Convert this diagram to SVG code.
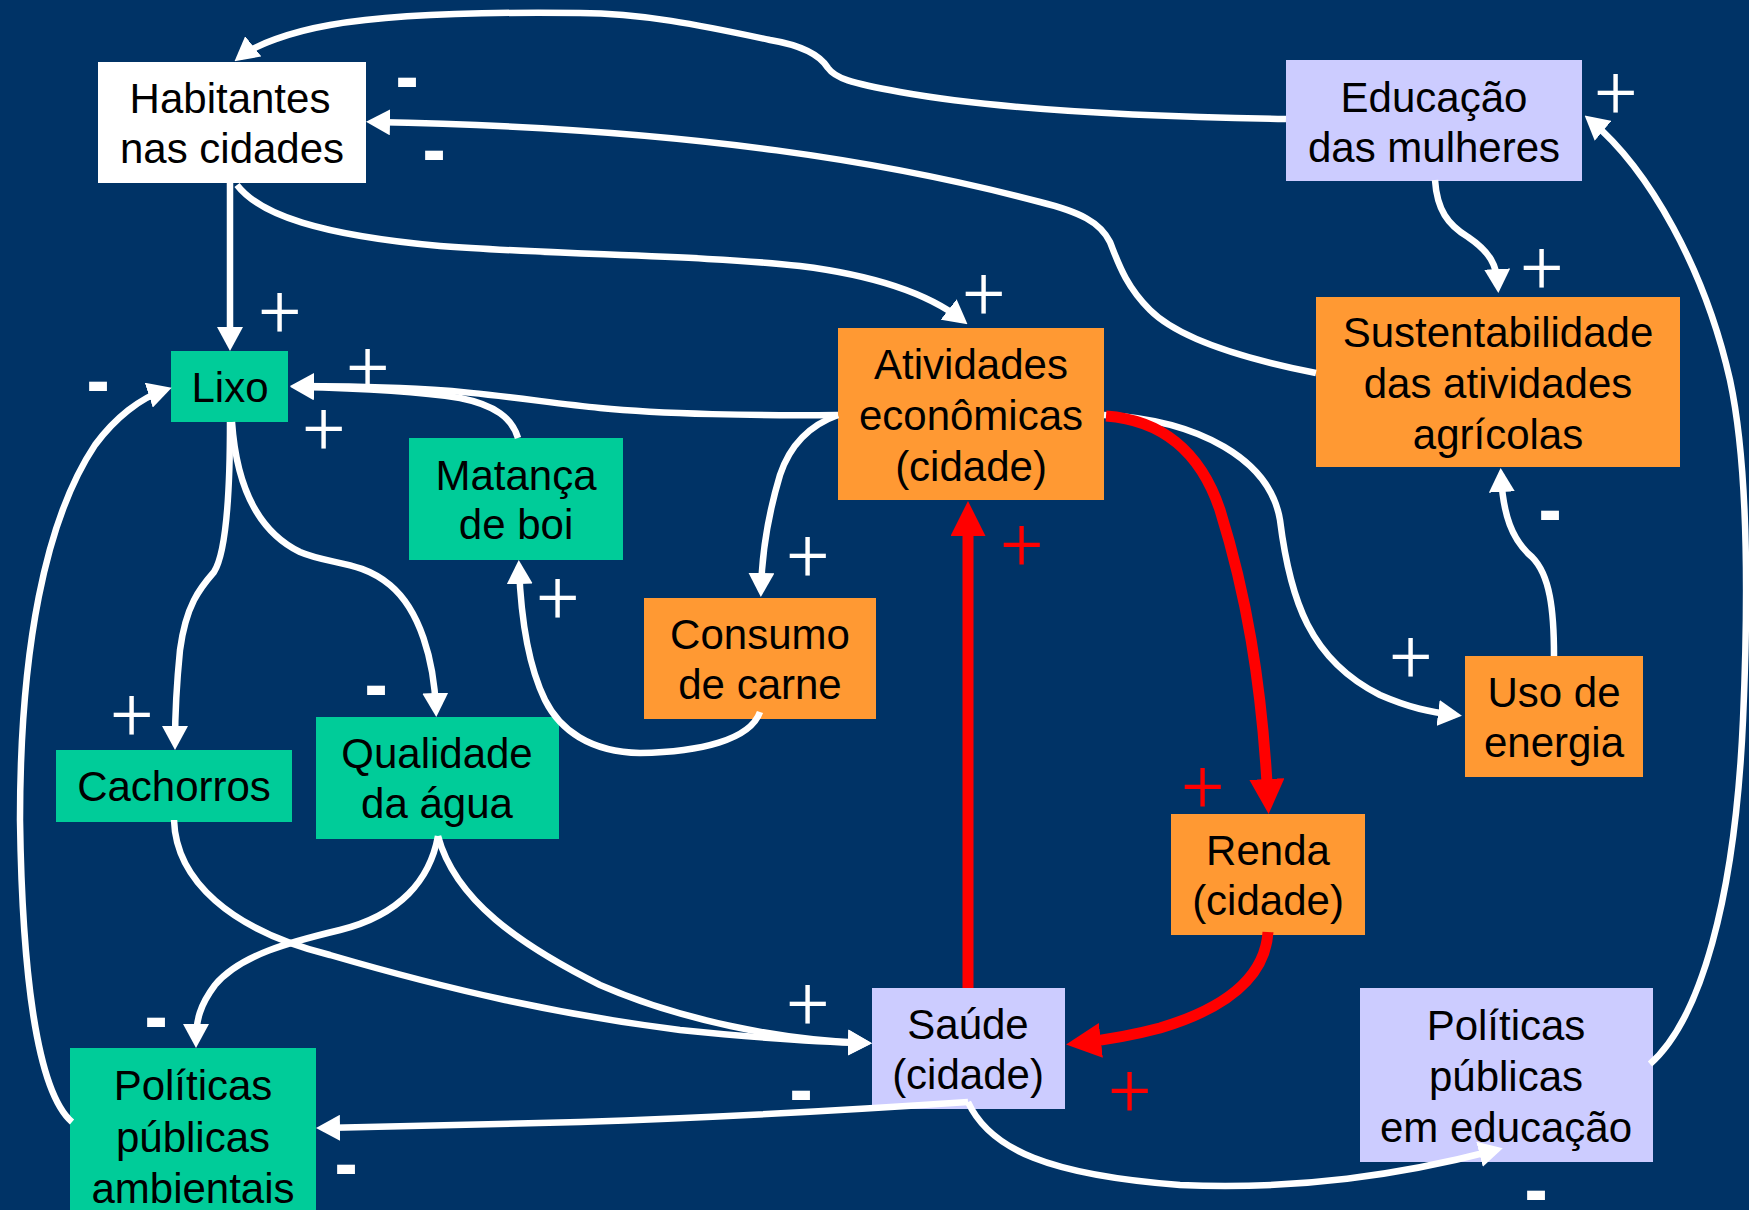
<svg xmlns="http://www.w3.org/2000/svg" width="1749" height="1210" viewBox="0 0 1749 1210">
<style>
.lbl{font-family:"Liberation Sans",Arial,sans-serif;font-size:42px;fill:#000;text-anchor:middle}
.w{fill:none;stroke:#fff;stroke-width:6.5;marker-end:url(#aw)}
.r{fill:none;stroke:#f00;stroke-width:11;marker-end:url(#ar)}
.plus{font-family:Roboto,"Liberation Sans",Arial,sans-serif;font-weight:300;font-size:74px;fill:#fff;text-anchor:middle}
.minus{font-family:"Liberation Sans",Arial,sans-serif;font-size:62px;font-weight:bold;fill:#fff;stroke:#fff;stroke-width:2;text-anchor:middle}
.rplus{font-family:Roboto,"Liberation Sans",Arial,sans-serif;font-weight:300;font-size:74px;fill:#f00;text-anchor:middle}
.teal{fill:#00CC99}.orange{fill:#FF9933}.lav{fill:#CCCCFF}.white{fill:#fff}
</style>
<defs>
<marker id="aw" markerUnits="userSpaceOnUse" markerWidth="24" markerHeight="26" refX="17" refY="13" orient="auto"><path d="M0,0 L24,13 L0,26 z" fill="#fff"/></marker>
<marker id="ar" markerUnits="userSpaceOnUse" markerWidth="35" markerHeight="35" refX="22" refY="17.5" orient="auto"><path d="M0,0 L35,17.5 L0,35 z" fill="#f00"/></marker>
</defs>
<rect width="1749" height="1210" fill="#003366"/>
<g id="nodes">
<g id="n-habitantes"><rect class="white" x="98" y="62" width="268" height="121"/><text class="lbl" x="230" y="113">Habitantes</text><text class="lbl" x="232" y="163">nas cidades</text></g>
<g id="n-educacao"><rect class="lav" x="1286" y="60" width="296" height="121"/><text class="lbl" x="1434" y="112">Educação</text><text class="lbl" x="1434" y="162">das mulheres</text></g>
<g id="n-lixo"><rect class="teal" x="171" y="351" width="117" height="71"/><text class="lbl" x="230" y="402">Lixo</text></g>
<g id="n-matanca"><rect class="teal" x="409" y="438" width="214" height="122"/><text class="lbl" x="516" y="490">Matança</text><text class="lbl" x="516" y="539">de boi</text></g>
<g id="n-atividades"><rect class="orange" x="838" y="328" width="266" height="172"/><text class="lbl" x="971" y="379">Atividades</text><text class="lbl" x="971" y="430">econômicas</text><text class="lbl" x="971" y="481">(cidade)</text></g>
<g id="n-sustentabilidade"><rect class="orange" x="1316" y="297" width="364" height="170"/><text class="lbl" x="1498" y="347">Sustentabilidade</text><text class="lbl" x="1498" y="398">das atividades</text><text class="lbl" x="1498" y="449">agrícolas</text></g>
<g id="n-consumo"><rect class="orange" x="644" y="598" width="232" height="121"/><text class="lbl" x="760" y="649">Consumo</text><text class="lbl" x="760" y="699">de carne</text></g>
<g id="n-uso"><rect class="orange" x="1465" y="656" width="178" height="121"/><text class="lbl" x="1554" y="707">Uso de</text><text class="lbl" x="1554" y="757">energia</text></g>
<g id="n-cachorros"><rect class="teal" x="56" y="750" width="236" height="72"/><text class="lbl" x="174" y="801">Cachorros</text></g>
<g id="n-qualidade"><rect class="teal" x="316" y="717" width="243" height="122"/><text class="lbl" x="437" y="768">Qualidade</text><text class="lbl" x="437" y="818">da água</text></g>
<g id="n-renda"><rect class="orange" x="1171" y="814" width="194" height="121"/><text class="lbl" x="1268" y="865">Renda</text><text class="lbl" x="1268" y="915">(cidade)</text></g>
<g id="n-saude"><rect class="lav" x="872" y="988" width="193" height="121"/><text class="lbl" x="968" y="1039">Saúde</text><text class="lbl" x="968" y="1089">(cidade)</text></g>
<g id="n-pol-amb"><rect class="teal" x="70" y="1048" width="246" height="170"/><text class="lbl" x="193" y="1100">Políticas</text><text class="lbl" x="193" y="1152">públicas</text><text class="lbl" x="193" y="1203">ambientais</text></g>
<g id="n-pol-edu"><rect class="lav" x="1360" y="988" width="293" height="174"/><text class="lbl" x="1506" y="1040">Políticas</text><text class="lbl" x="1506" y="1091">públicas</text><text class="lbl" x="1506" y="1142">em educação</text></g>
</g>
<g id="connectors">
<path class="w" d="M1286,119 C1150,117 1000,110 900,92 C850,83 835,78 828,68 C820,55 800,45 770,40 C700,25 640,13 580,13 C500,12 400,13 330,25 C290,32 255,45 240,57"/>
<path class="w" d="M1316,373 C1250,360 1180,340 1150,310 C1125,285 1118,262 1110,242 C1100,222 1080,212 1040,202 C900,165 700,128 373,122"/>
<path class="w" d="M230,183 L230,344"/>
<path class="w" d="M237,185 C260,215 320,235 440,246 C560,255 700,255 800,266 C880,276 930,295 962,320"/>
<path class="w" d="M838,415 C760,416 660,414 600,408 C540,402 470,390 400,388 C350,386 320,386 297,386"/>
<path class="w" d="M518,438 C512,418 495,405 460,398 C410,390 350,388 297,387"/>
<path class="w" d="M838,415 C810,425 790,445 780,475 C768,515 762,550 761,590"/>
<path class="w" d="M760,712 C750,740 700,752 640,753 C590,752 560,730 545,700 C528,665 521,620 519,567"/>
<path class="w" d="M230,422 C230,480 228,550 214,572 C200,588 186,605 180,650 C176,690 175,720 175,743"/>
<path class="w" d="M232,422 C236,480 255,530 300,552 C330,565 360,560 390,585 C420,610 434,660 436,710"/>
<path class="w" d="M72,1122 C35,1090 22,960 20,820 C20,650 45,520 95,445 C115,418 140,398 165,390"/>
<path class="w" d="M438,836 C430,880 400,915 340,930 C290,942 240,955 215,985 C200,1005 196,1020 196,1041"/>
<path class="w" d="M438,836 C455,900 520,945 600,985 C680,1020 780,1040 865,1043"/>
<path class="w" d="M174,820 C176,880 230,930 330,955 C450,990 560,1015 680,1030 C760,1038 820,1042 865,1043"/>
<path class="w" d="M968,1102 C850,1110 700,1118 580,1122 C480,1125 400,1127 323,1128"/>
<path class="w" d="M968,1102 C990,1150 1050,1175 1180,1185 C1300,1190 1400,1175 1496,1150"/>
<path class="w" d="M1650,1064 C1700,1020 1735,900 1743,720 C1750,560 1745,450 1730,380 C1705,270 1650,170 1590,120"/>
<path class="w" d="M1435,180 C1437,210 1448,225 1468,237 C1490,252 1497,265 1498,286"/>
<path class="w" d="M1554,656 C1554,610 1550,575 1532,557 C1512,540 1503,515 1501,475"/>
<path class="w" d="M1104,415 C1200,420 1270,460 1280,520 C1290,600 1310,660 1380,695 C1410,708 1430,712 1455,715"/>
<path class="r" d="M1106,416 C1160,420 1200,450 1220,510 C1245,590 1262,680 1268,801"/>
<path class="r" d="M1268,932 C1265,980 1220,1010 1160,1028 C1130,1036 1105,1040 1079,1043"/>
<path class="r" d="M968,988 L968,514"/>
</g>
<g id="signs">
<text class="minus" x="407" y="98">-</text>
<text class="minus" x="434" y="171">-</text>
<text class="plus" x="280" y="337">+</text>
<text class="plus" x="368" y="393">+</text>
<text class="plus" x="324" y="454">+</text>
<text class="minus" x="98" y="402">-</text>
<text class="plus" x="984" y="319">+</text>
<text class="plus" x="1616" y="118">+</text>
<text class="plus" x="1542" y="293">+</text>
<text class="plus" x="808" y="581">+</text>
<text class="plus" x="558" y="623">+</text>
<text class="plus" x="132" y="740">+</text>
<text class="minus" x="376" y="706">-</text>
<text class="minus" x="156" y="1038">-</text>
<text class="plus" x="808" y="1029">+</text>
<text class="minus" x="801" y="1111">-</text>
<text class="minus" x="346" y="1185">-</text>
<text class="minus" x="1536" y="1211">-</text>
<text class="plus" x="1411" y="682">+</text>
<text class="minus" x="1550" y="531">-</text>
<text class="rplus" x="1022" y="570">+</text>
<text class="rplus" x="1203" y="812">+</text>
<text class="rplus" x="1130" y="1116">+</text>
</g>
</svg>
